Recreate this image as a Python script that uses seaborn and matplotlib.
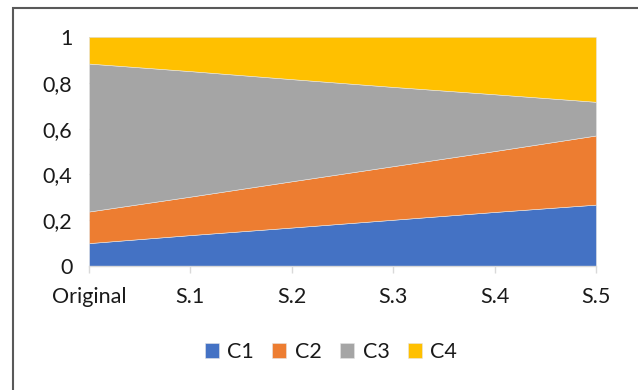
import matplotlib
matplotlib.use("Agg")
import matplotlib.pyplot as plt
from matplotlib.patches import Rectangle
import seaborn as sns

# Categories and stacked shares per class
categories = ["Original", "S.1", "S.2", "S.3", "S.4", "S.5"]
c1 = [0.100, 0.135, 0.168, 0.202, 0.236, 0.268]
c2 = [0.138, 0.168, 0.202, 0.234, 0.266, 0.302]
c3 = [0.646, 0.548, 0.446, 0.346, 0.248, 0.147]
c4 = [0.116, 0.149, 0.184, 0.218, 0.250, 0.283]
series_names = ["C1", "C2", "C3", "C4"]
y_ticks = [0, 0.2, 0.4, 0.6, 0.8, 1]
y_tick_labels = ["0", "0,2", "0,4", "0,6", "0,8", "1"]

colors = ["#4472C4", "#ED7D31", "#A5A5A5", "#FFC000"]

sns.set_theme(style="white")
plt.rcParams["font.family"] = ["Lato", "DejaVu Sans"]

FS = 15.5

fig = plt.figure(figsize=(6.38, 3.90), dpi=100)
ax = fig.add_axes([89 / 638, 1 - 266 / 390, (596 - 89) / 638, (266 - 37) / 390])

x = list(range(len(categories)))
ax.stackplot(x, c1, c2, c3, c4, labels=series_names, colors=colors,
             edgecolor="#e6e6e6", linewidth=0.4, zorder=2)

ax.set_xlim(0, len(categories) - 1)
ax.set_ylim(0, 1)
ax.set_xticks(x)
ax.set_xticklabels(categories, fontsize=FS, color="#1a1a1a")
ax.set_yticks(y_ticks)
ax.set_yticklabels(y_tick_labels, fontsize=FS, color="#1a1a1a")

ax.yaxis.grid(True, color="#D9D9D9", linewidth=1, zorder=0)
ax.set_axisbelow(True)
for side in ["top", "right", "left"]:
    ax.spines[side].set_visible(False)
ax.spines["bottom"].set_color("#D9D9D9")
ax.spines["bottom"].set_linewidth(1)
ax.spines["bottom"].set_zorder(3)

ax.tick_params(axis="x", direction="out", length=5, width=1, color="#D9D9D9",
               pad=10, bottom=True)
ax.tick_params(axis="y", length=0, pad=12)

leg = fig.legend(loc="center", bbox_to_anchor=(331 / 638, 1 - 352 / 390),
                 ncol=4, frameon=False, fontsize=FS, handlelength=0.65,
                 handleheight=0.65, handletextpad=0.4, columnspacing=0.85)
for t in leg.get_texts():
    t.set_color("#1a1a1a")

# Chart frame
fig.patches.append(Rectangle((13 / 638, -0.05), 2.0, 1 - 8 / 390 + 0.05,
                             transform=fig.transFigure, fill=False,
                             edgecolor="#595959", linewidth=1.5))

fig.savefig("out.png", dpi=100)
